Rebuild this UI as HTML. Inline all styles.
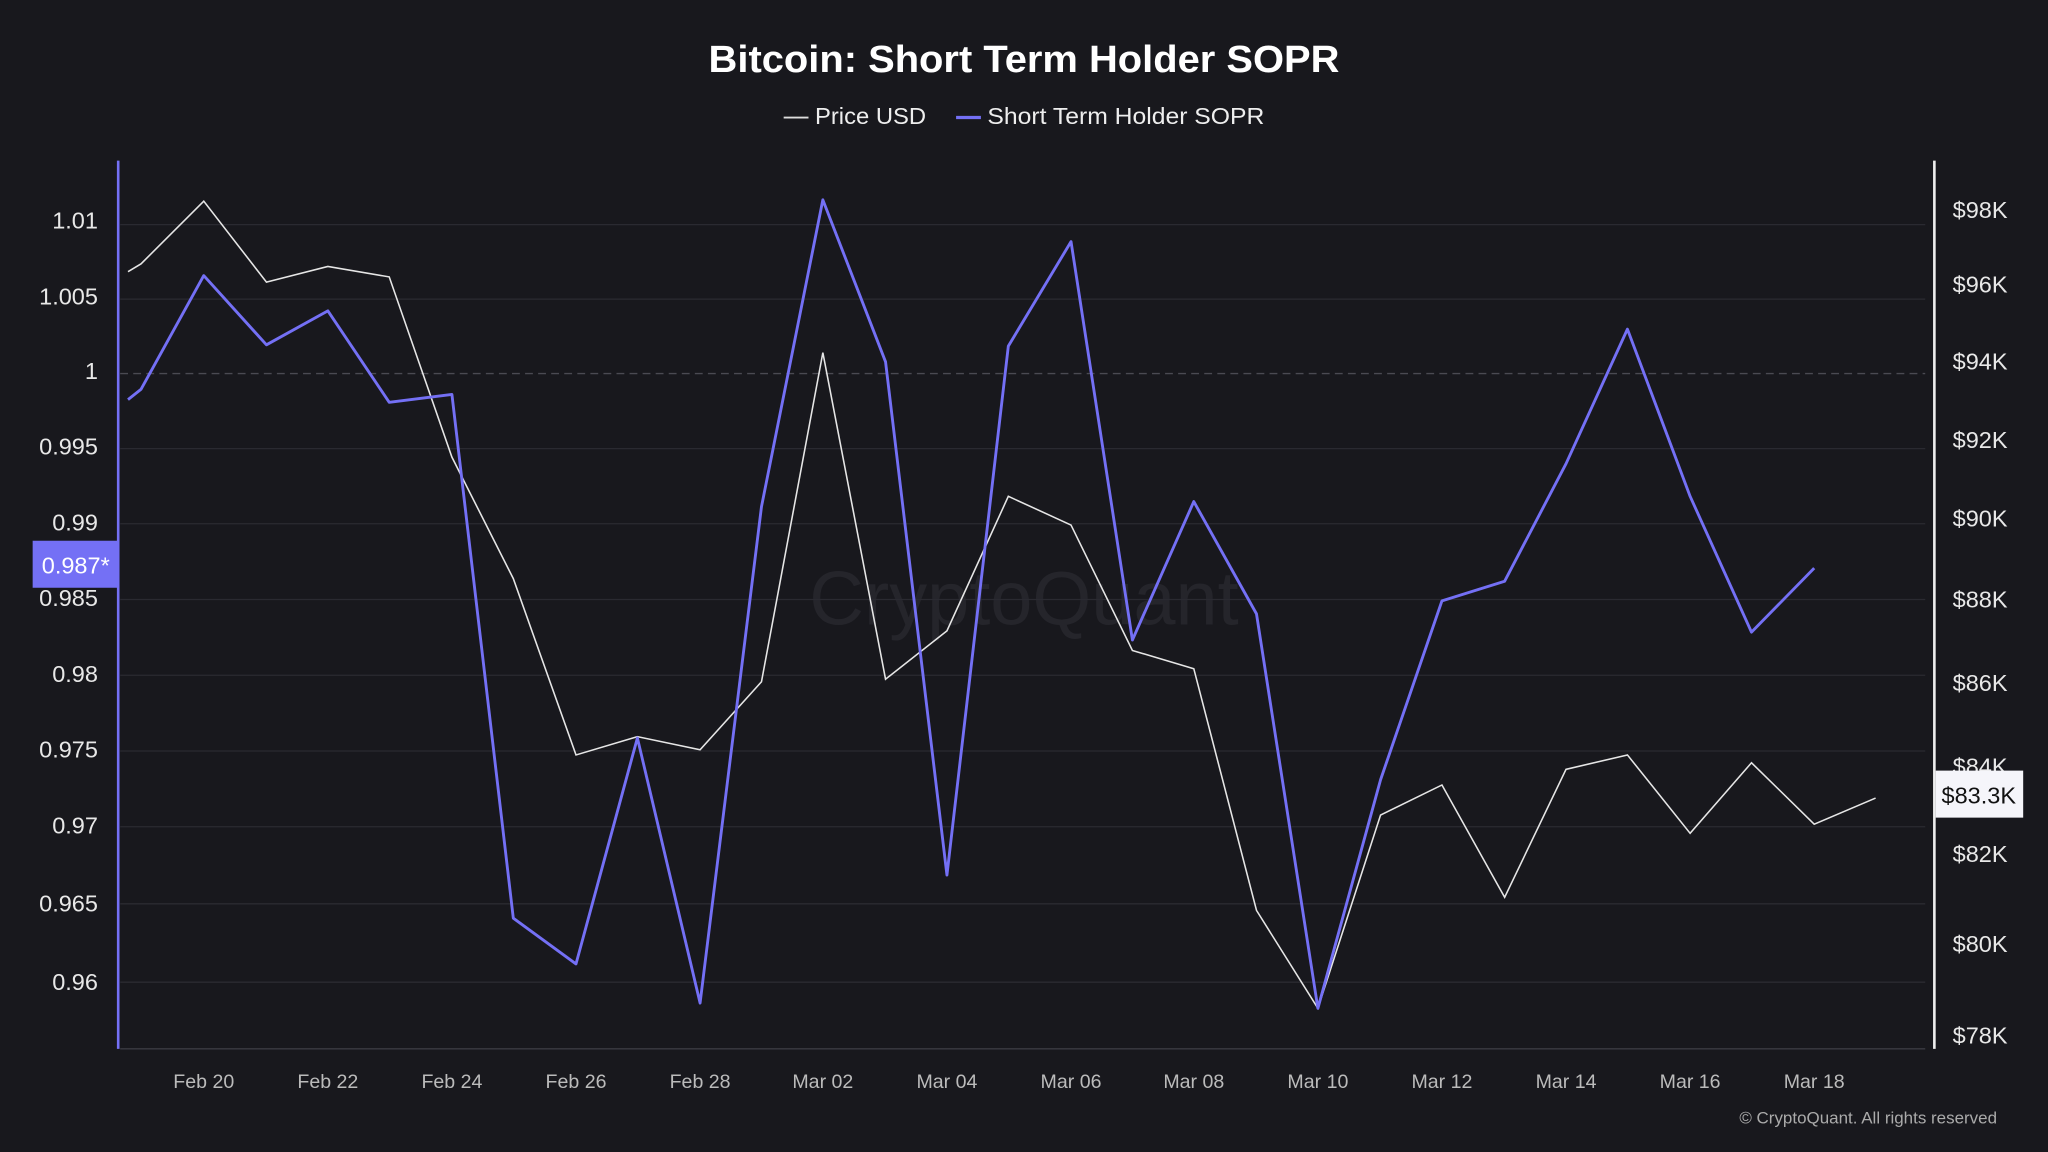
<!DOCTYPE html>
<html><head><meta charset="utf-8"><style>
html,body{margin:0;padding:0;background:#18181d;}
svg{display:block;}
text{font-family:"Liberation Sans",sans-serif;}
</style></head><body>
<svg width="2048" height="1152" viewBox="0 0 1568 882" xmlns="http://www.w3.org/2000/svg">
<rect width="1568" height="882" fill="#18181d"/>
<text x="784" y="55" text-anchor="middle" font-size="29" font-weight="bold" fill="#fff" textLength="483" lengthAdjust="spacingAndGlyphs">Bitcoin: Short Term Holder SOPR</text>
<line x1="600" y1="90" x2="619" y2="90" stroke="#ddd" stroke-width="1.5"/>
<text x="624" y="95" font-size="18" fill="#eee" textLength="85" lengthAdjust="spacingAndGlyphs">Price USD</text>
<line x1="732" y1="90" x2="751" y2="90" stroke="#7470f5" stroke-width="2.5"/>
<text x="756" y="95" font-size="18" fill="#eee" textLength="212" lengthAdjust="spacingAndGlyphs">Short Term Holder SOPR</text>
<text x="784" y="478" text-anchor="middle" font-size="58" fill="#25252b">CryptoQuant</text>
<g stroke="#2a2a31" stroke-width="1">
<line x1="92" y1="172" x2="1474" y2="172"/><line x1="92" y1="229" x2="1474" y2="229"/>
<line x1="92" y1="343.5" x2="1474" y2="343.5"/><line x1="92" y1="401" x2="1474" y2="401"/>
<line x1="92" y1="459" x2="1474" y2="459"/><line x1="92" y1="517" x2="1474" y2="517"/>
<line x1="92" y1="575" x2="1474" y2="575"/><line x1="92" y1="633" x2="1474" y2="633"/>
<line x1="92" y1="692" x2="1474" y2="692"/><line x1="92" y1="752" x2="1474" y2="752"/>
</g>
<line x1="92" y1="286" x2="1474" y2="286" stroke="#4a4a52" stroke-dasharray="6,4"/>
<line x1="92" y1="803" x2="1474" y2="803" stroke="#3a3a42"/>
<line x1="90.5" y1="123" x2="90.5" y2="803" stroke="#7470f5" stroke-width="2"/>
<line x1="1481" y1="123" x2="1481" y2="803" stroke="#eee" stroke-width="2"/>
<g font-size="18" fill="#e8e8e8" text-anchor="end">
<text x="75" y="175">1.01</text><text x="75" y="233">1.005</text><text x="75" y="290">1</text>
<text x="75" y="348">0.995</text><text x="75" y="406">0.99</text><text x="75" y="464">0.985</text>
<text x="75" y="522">0.98</text><text x="75" y="580">0.975</text><text x="75" y="638">0.97</text>
<text x="75" y="698">0.965</text><text x="75" y="758">0.96</text>
</g>
<g font-size="18" fill="#e8e8e8">
<text x="1495" y="167">$98K</text><text x="1495" y="224">$96K</text><text x="1495" y="283">$94K</text>
<text x="1495" y="343">$92K</text><text x="1495" y="403">$90K</text><text x="1495" y="465">$88K</text>
<text x="1495" y="529">$86K</text><text x="1495" y="593">$84K</text><text x="1495" y="660">$82K</text>
<text x="1495" y="729">$80K</text><text x="1495" y="799">$78K</text>
</g>
<g font-size="15" fill="#bbb" text-anchor="middle">
<text x="156" y="833">Feb 20</text><text x="251" y="833">Feb 22</text><text x="346" y="833">Feb 24</text>
<text x="441" y="833">Feb 26</text><text x="536" y="833">Feb 28</text><text x="630" y="833">Mar 02</text>
<text x="725" y="833">Mar 04</text><text x="820" y="833">Mar 06</text><text x="914" y="833">Mar 08</text>
<text x="1009" y="833">Mar 10</text><text x="1104" y="833">Mar 12</text><text x="1199" y="833">Mar 14</text>
<text x="1294" y="833">Mar 16</text><text x="1389" y="833">Mar 18</text>
</g>
<text x="1529" y="860" text-anchor="end" font-size="13" fill="#aaa">© CryptoQuant. All rights reserved</text>
<polyline fill="none" stroke="#e6e6e6" stroke-width="1.2" points="98,208 108,202 156,154 204,216 251,204 298,212 346,350 393,443 441,578 488,564 536,574 583,522 630,270 678,520 725,483 772,380 820,402 867,498 914,512 962,697 1009,772 1057,624 1104,601 1152,687 1199,589 1246,578 1294,638 1341,584 1389,631 1436,611"/>
<polyline fill="none" stroke="#7470f5" stroke-width="2.2" stroke-linejoin="round" points="98,306 108,298 156,211 204,264 251,238 298,308 346,302 393,703 441,738 488,565 536,768 583,388 630,153 678,277 725,670 772,265 820,185 867,490 914,384 962,470 1009,772 1057,597 1104,460 1152,445 1199,355 1246,252 1294,380 1341,484 1389,435"/>
<rect x="25" y="414" width="65" height="36" fill="#7470f5"/>
<text x="58" y="439" text-anchor="middle" font-size="18" fill="#fff">0.987*</text>
<rect x="1482" y="590" width="67" height="36" fill="#f5f5fa"/>
<text x="1515" y="615" text-anchor="middle" font-size="18" fill="#111">$83.3K</text>
</svg>
</body></html>
